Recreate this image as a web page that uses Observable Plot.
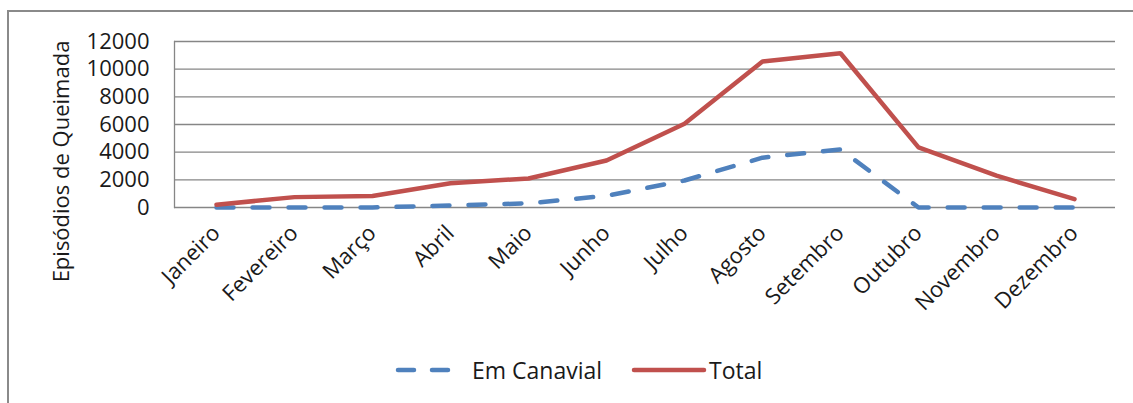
<!DOCTYPE html>
<html>
<head>
<meta charset="utf-8">
<script src="https://cdn.jsdelivr.net/npm/d3@7"></script>
<script src="https://cdn.jsdelivr.net/npm/@observablehq/plot@0.6"></script>
<style>
  html, body { margin: 0; padding: 0; background: #fff; }
  #wrap { position: relative; width: 1133px; height: 403px; overflow: hidden; font-family: "Open Sans", sans-serif; }
  #frame { position: absolute; left: 7px; top: 10px; width: 1200px; height: 500px; border: 2px solid #8a8a8a; box-sizing: border-box; }
  #chart { position: absolute; left: 0; top: 0; }
  #legend { position: absolute; left: 0; top: 352px; width: 1133px; height: 36px; font-size: 23px; color: #1a1a1a; }
  .lg { position: absolute; top: 0; display: flex; align-items: center; height: 36px; }
</style>
</head>
<body>
<div id="wrap">
  <div id="frame"></div>
  <div id="chart"></div>
  <div id="legend"></div>
</div>
<script>
const months = ["Janeiro","Fevereiro","Março","Abril","Maio","Junho","Julho","Agosto","Setembro","Outubro","Novembro","Dezembro"];
const emCanavial = [0, 0, 0, 150, 300, 850, 1950, 3600, 4200, 0, 0, 0];
const total = [200, 750, 830, 1750, 2100, 3400, 6050, 10550, 11150, 4350, 2300, 600];
const yTicks = [0, 2000, 4000, 6000, 8000, 10000, 12000];
const yTitle = "Episódios de Queimada";
const seriesNames = ["Em Canavial", "Total"];
const colors = ["#4F81BD", "#C0504D"];

const canData = months.map((m, i) => ({month: m, value: emCanavial[i]}));
const totData = months.map((m, i) => ({month: m, value: total[i]}));

const chart = Plot.plot({
  width: 1133,
  height: 340,
  marginLeft: 174,
  marginRight: 18,
  marginTop: 41,
  marginBottom: 133,
  style: { fontFamily: "'Open Sans', sans-serif", fontSize: "22px", color: "#1a1a1a", background: "transparent", overflow: "visible" },
  x: { type: "point", domain: months, padding: 0.5, label: null },
  y: { domain: [0, 12000], label: null },
  marks: [
    Plot.gridY(yTicks, { stroke: "#868686", strokeOpacity: 1, strokeWidth: 1.3 }),
    Plot.frame({ anchor: "left", stroke: "#868686", strokeWidth: 1.3 }),
    Plot.axisY({ ticks: yTicks, tickSize: 0, tickPadding: 25, tickFormat: d => String(d), fontSize: 22, label: null }),
    Plot.axisX({ tickSize: 0, tickRotate: -45, tickPadding: 22, fontSize: 22, label: null }),
    Plot.text([yTitle], { text: d => d, frameAnchor: "left", rotate: -90, dx: -113, dy: 37, fontSize: 22, textAnchor: "middle", fill: "#1a1a1a" }),
    Plot.line(canData, { x: "month", y: "value", stroke: colors[0], strokeWidth: 4.5, strokeDasharray: "17,19", strokeLinecap: "round" }),
    Plot.line(totData, { x: "month", y: "value", stroke: colors[1], strokeWidth: 4.5, strokeLinejoin: "miter" })
  ]
});
document.getElementById("chart").appendChild(chart);

// Legend
const legend = document.getElementById("legend");
const items = [
  { name: seriesNames[0], color: colors[0], dashed: true, left: 394 },
  { name: seriesNames[1], color: colors[1], dashed: false, left: 631 }
];
items.forEach(it => {
  const div = document.createElement("div");
  div.className = "lg";
  div.style.left = it.left + "px";
  const sw = it.dashed
    ? `<svg width="78" height="10"><line x1="4" y1="5" x2="56" y2="5" stroke="${it.color}" stroke-width="4.5" stroke-dasharray="16,18" stroke-linecap="round"/></svg>`
    : `<svg width="78" height="10"><line x1="3" y1="5" x2="73" y2="5" stroke="${it.color}" stroke-width="4.5" stroke-linecap="round"/></svg>`;
  div.innerHTML = sw + `<span>${it.name}</span>`;
  legend.appendChild(div);
});
</script>
</body>
</html>
